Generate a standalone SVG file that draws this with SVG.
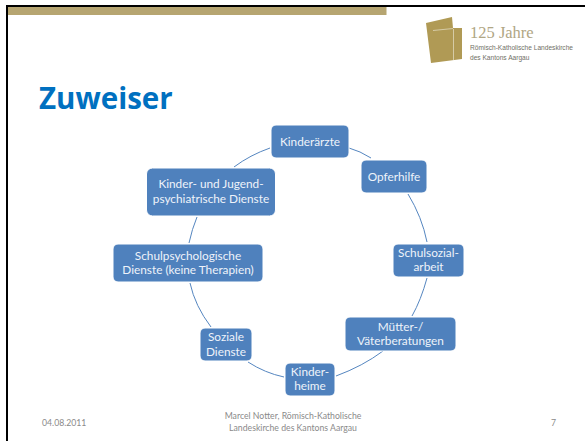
<svg xmlns="http://www.w3.org/2000/svg" width="585" height="441" viewBox="0 0 585 441">
<style>
.n{fill:#4f81bd;stroke:#fff;stroke-width:1}
.t{font-family:"Lato","Liberation Sans",sans-serif;font-size:11.8px;fill:#eef3fa;text-anchor:middle}
.c{fill:none;stroke:#5586c0;stroke-width:1}
.f{font-family:"Lato","Liberation Sans",sans-serif;font-size:8.7px;fill:#8a8a8a}
</style>
<rect width="585" height="441" fill="#fff"/>
<rect x="7" y="6" width="600" height="440" fill="#fff" stroke="#000" stroke-width="2"/>
<rect x="8" y="7" width="378.500" height="8" fill="#b6a571"/>
<g id="logo">
<path d="M426 23L452 17L453 28H462V59L431 63Z" fill="#b09a55"/>
<path d="M433 30L453 28V29L433 31ZM453 29H454V60H453Z" fill="#d6cba6"/>
<text x="470" y="38" font-family="Liberation Serif,serif" font-size="16.500" fill="#b0a684">125 Jahre</text>
<text x="470" y="50" font-family="Liberation Sans,sans-serif" font-size="6.600" fill="#6f6f66">Römisch-Katholische Landeskirche</text>
<text x="470" y="59.500" font-family="Liberation Sans,sans-serif" font-size="6.600" fill="#6f6f66">des Kantons Aargau</text>
</g>
<text x="39" y="109" font-family="Open Sans,Liberation Sans,sans-serif" font-weight="700" font-size="29.500" fill="#0070c0">Zuweiser</text>
<g id="connectors">
<path class="c" d="M270 148Q250 155 234 167"/>
<path class="c" d="M349 148Q360 151 371 158"/>
<path class="c" d="M408 194Q422 217 427 242"/>
<path class="c" d="M427 278Q421 300 412 316"/>
<path class="c" d="M383 351Q363 366 336 376"/>
<path class="c" d="M284 377Q265 373 248 362"/>
<path class="c" d="M211 327Q195 306 190 283"/>
<path class="c" d="M189 243Q192 229 197 217"/>
</g>
<g id="kinderaerzte"><rect class="n" x="271" y="125" width="78" height="33" rx="5"/><text class="t" x="310" y="145.500">Kinderärzte</text></g>
<g id="opferhilfe"><rect class="n" x="361" y="160" width="66" height="33" rx="5"/><text class="t" x="394" y="180.500">Opferhilfe</text></g>
<g id="schulsozialarbeit"><rect class="n" x="393" y="244" width="71" height="33" rx="5"/><text class="t" x="428.500" y="257">Schulsozial-</text><text class="t" x="428.500" y="271">arbeit</text></g>
<g id="muetter"><rect class="n" x="345" y="317" width="111" height="34" rx="5"/><text class="t" x="400.500" y="331">Mütter-/</text><text class="t" x="400.500" y="345">Väterberatungen</text></g>
<g id="kinderheime"><rect class="n" x="285" y="363" width="50" height="33" rx="5"/><text class="t" x="310" y="376">Kinder-</text><text class="t" x="310" y="390">heime</text></g>
<g id="soziale"><rect class="n" x="200" y="328" width="52" height="33" rx="5"/><text class="t" x="226" y="341">Soziale</text><text class="t" x="226" y="356">Dienste</text></g>
<g id="schulpsych"><rect class="n" x="113" y="244" width="150" height="38" rx="5"/><text class="t" x="188" y="260">Schulpsychologische</text><text class="t" x="188" y="274">Dienste (keine Therapien)</text></g>
<g id="kjp"><rect class="n" x="146.500" y="168" width="129" height="48" rx="6"/><text class="t" x="211" y="188">Kinder- und Jugend-</text><text class="t" x="211" y="203">psychiatrische Dienste</text></g>
<g id="footer">
<text class="f" x="42" y="426">04.08.2011</text>
<text class="f" x="293" y="419" text-anchor="middle">Marcel Notter, Römisch-Katholische</text>
<text class="f" x="293" y="431" text-anchor="middle">Landeskirche des Kantons Aargau</text>
<text class="f" x="551" y="426">7</text>
</g>
</svg>
